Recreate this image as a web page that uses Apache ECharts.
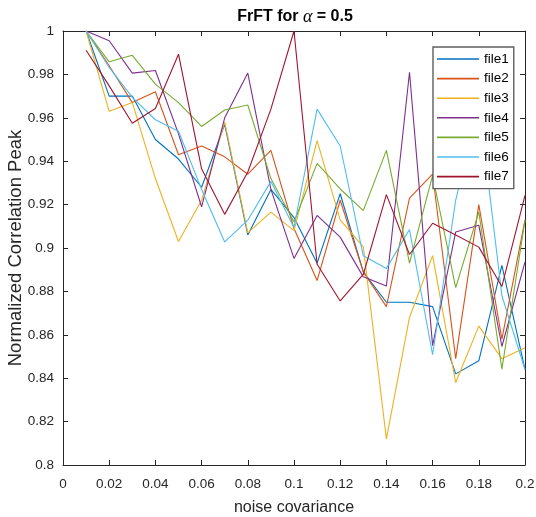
<!DOCTYPE html>
<html>
<head>
<meta charset="utf-8">
<script src="https://cdn.jsdelivr.net/npm/echarts@6/dist/echarts.min.js"></script>
<style>html,body{margin:0;padding:0;background:#fff;}#c{width:536px;height:517px;}</style>
</head>
<body>
<div id="c"></div>
<script>
const xs = [0.01,0.02,0.03,0.04,0.05,0.06,0.07,0.08,0.09,0.10,0.11,0.12,0.13,0.14,0.15,0.16,0.17,0.18,0.19,0.20];
const seriesNames = ['file1','file2','file3','file4','file5','file6','file7'];
const file1 = [1, 0.970, 0.970, 0.950, 0.941, 0.928, 0.957, 0.906, 0.927, 0.914, 0.893, 0.925, 0.889, 0.875, 0.875, 0.873, 0.842, 0.848, 0.892, 0.844];
const file2 = [1, 0.984, 0.967, 0.972, 0.943, 0.947, 0.942, 0.934, 0.945, 0.909, 0.885, 0.922, 0.889, 0.873, 0.923, 0.934, 0.849, 0.920, 0.858, 0.913];
const file3 = [1, 0.963, 0.967, 0.932, 0.903, 0.922, 0.958, 0.907, 0.9165, 0.908, 0.9495, 0.913, 0.9005, 0.812, 0.868, 0.8965, 0.838, 0.864, 0.849, 0.854];
const file4 = [1, 0.9955, 0.9806, 0.9818, 0.9526, 0.919, 0.960, 0.9806, 0.927, 0.8952, 0.915, 0.905, 0.8867, 0.8825, 0.981, 0.855, 0.9074, 0.9105, 0.8546, 0.8936];
const file5 = [1, 0.9858, 0.9888, 0.9755, 0.967, 0.956, 0.9636, 0.9659, 0.932, 0.912, 0.939, 0.9272, 0.9172, 0.945, 0.893, 0.9334, 0.8817, 0.9166, 0.8442, 0.9128];
const file6 = [1, 0.9832, 0.9694, 0.9591, 0.9538, 0.927, 0.9028, 0.9128, 0.9307, 0.9095, 0.964, 0.947, 0.8964, 0.8906, 0.9085, 0.8508, 0.922, 0.967, 0.878, 0.844];
const file7 = [0.9911, 0.9747, 0.9575, 0.9643, 0.9893, 0.9365, 0.9155, 0.935, 0.964, 1.0, 0.8925, 0.8756, 0.8878, 0.9246, 0.8970, 0.9114, 0.906, 0.9004, 0.8823, 0.9243];
const allValues = [file1, file2, file3, file4, file5, file6, file7];
const colors = ['#0072BD','#D95319','#EDB120','#7E2F8E','#77AC30','#4DBEEE','#A2142F'];

const FONT = 'Liberation Sans, Arial, Helvetica, sans-serif';
const INK = '#262626';
const fmt = v => String(+(+v).toFixed(2));

const chart = echarts.init(document.getElementById('c'), null, {renderer: 'canvas'});
const axisCommon = {
  axisLine: {show: true, onZero: false, lineStyle: {color: INK, width: 1}},
  axisTick: {show: true, inside: true, length: 5, lineStyle: {color: INK, width: 1}},
  splitLine: {show: false}
};
chart.setOption({
  animation: false,
  backgroundColor: '#fff',
  title: {
    text: 'FrFT for {a|α} = 0.5',
    left: 290, top: 3, textAlign: 'center',
    textStyle: {
      fontFamily: FONT, fontWeight: 'bold', fontSize: 16, color: '#000',
      rich: {a: {fontFamily: 'Liberation Serif, DejaVu Serif, serif', fontStyle: 'italic', fontWeight: 'normal', fontSize: 18, color: '#000'}}
    }
  },
  grid: {left: 63, right: 11, top: 31, bottom: 52, containLabel: false, outerBoundsMode: 'none'},
  legend: {
    orient: 'vertical', left: 433, top: 47,
    data: seriesNames.map(n => ({name: n, icon: 'rect'})),
    itemWidth: 42, itemHeight: 1.6, itemGap: 5.6,
    padding: [5, 5, 5, 4],
    backgroundColor: '#fff', borderColor: '#5e5e5e', borderWidth: 1.4,
    textStyle: {fontFamily: FONT, fontSize: 13.5, lineHeight: 14, color: '#000'}
  },
  xAxis: [
    Object.assign({}, axisCommon, {
      type: 'value', min: 0, max: 0.2, interval: 0.02, position: 'bottom',
      name: 'noise covariance', nameLocation: 'middle', nameGap: 35, nameMoveOverlap: false,
      nameTextStyle: {fontFamily: FONT, fontSize: 16, color: INK},
      axisLabel: {fontFamily: FONT, fontSize: 13.5, color: INK, margin: 12, formatter: fmt}
    }),
    Object.assign({}, axisCommon, {
      type: 'value', min: 0, max: 0.2, interval: 0.02, position: 'top',
      axisLabel: {show: false}
    })
  ],
  yAxis: [
    Object.assign({}, axisCommon, {
      type: 'value', min: 0.8, max: 1, interval: 0.02, position: 'left',
      name: 'Normalized Correlation Peak', nameLocation: 'middle', nameGap: 38, nameMoveOverlap: false,
      nameTextStyle: {fontFamily: FONT, fontSize: 18.5, color: INK},
      axisLabel: {fontFamily: FONT, fontSize: 13.5, color: INK, margin: 9, formatter: fmt}
    }),
    Object.assign({}, axisCommon, {
      type: 'value', min: 0.8, max: 1, interval: 0.02, position: 'right',
      axisLabel: {show: false}
    })
  ],
  series: seriesNames.map((name, i) => ({
    name: name,
    type: 'line',
    xAxisIndex: 0, yAxisIndex: 0,
    data: xs.map((x, j) => [x, allValues[i][j]]),
    symbol: 'none',
    color: colors[i],
    lineStyle: {color: colors[i], width: 1.1},
    emphasis: {disabled: true}
  }))
});
</script>
</body>
</html>
